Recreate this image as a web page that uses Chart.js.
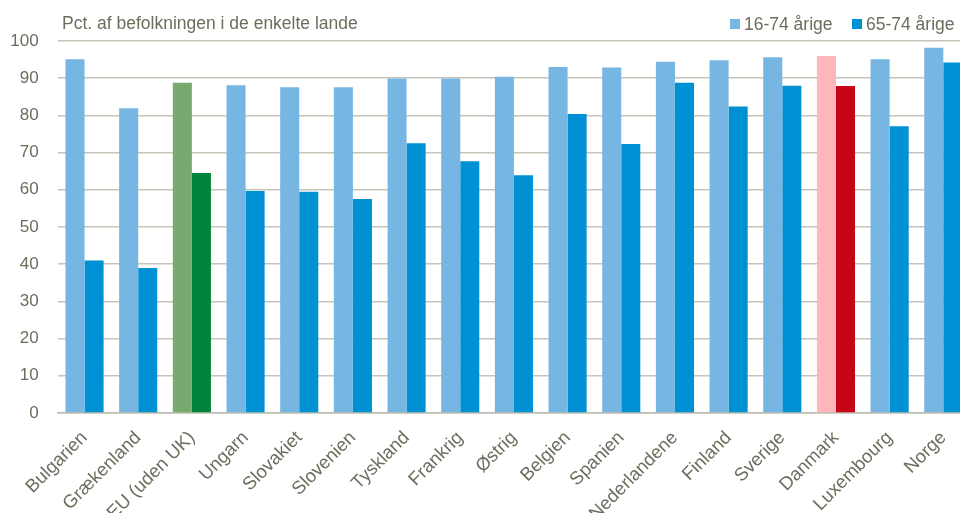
<!DOCTYPE html>
<html lang="da">
<head>
<meta charset="utf-8">
<script src="https://cdn.jsdelivr.net/npm/chart.js@4.4.1/dist/chart.umd.min.js"></script>
<style>
  html, body { margin: 0; padding: 0; background: #fff; overflow: hidden; }
  #wrap { position: absolute; left: 0; top: 0; width: 973px; height: 513px; }
</style>
</head>
<body>
<div id="wrap"><canvas id="myChart"></canvas></div>
<script>
// data
const lande = ['Bulgarien', 'Grækenland', 'EU (uden UK)', 'Ungarn', 'Slovakiet', 'Slovenien', 'Tyskland',
  'Frankrig', 'Østrig', 'Belgien', 'Spanien', 'Nederlandene', 'Finland', 'Sverige', 'Danmark', 'Luxembourg', 'Norge'];
const alle16til74 = [95.1, 81.9, 88.8, 88.1, 87.6, 87.6, 89.9, 89.9, 90.4, 93.0, 92.9, 94.4, 94.8, 95.6, 96.0, 95.1, 98.2];
const aeldre65til74 = [41.0, 39.0, 64.5, 59.7, 59.5, 57.5, 72.5, 67.7, 63.9, 80.4, 72.3, 88.8, 82.4, 88.0, 87.9, 77.1, 94.2];
const yTicks = [0, 10, 20, 30, 40, 50, 60, 70, 80, 90, 100];

// farver
const tekstFarve = '#6d6d5d';
const lysBlaa = '#77b5e3';
const moerkBlaa = '#0090d4';
const fremhaev = {
  'EU (uden UK)': ['#78aa6f', '#00843b'],
  'Danmark': ['#ffb7bb', '#c80516']
};

const farverLys = lande.map(l => fremhaev[l] ? fremhaev[l][0] : lysBlaa);
const farverMoerk = lande.map(l => fremhaev[l] ? fremhaev[l][1] : moerkBlaa);

const skrift = '"Liberation Sans", Arial, sans-serif';

// titel og forklaring tegnes selv oeverst
const overskrift = {
  id: 'overskrift',
  afterDraw(chart) {
    const c = chart.ctx;
    c.save();
    c.fillStyle = tekstFarve;
    c.font = '17.5px ' + skrift;
    c.textBaseline = 'alphabetic';
    c.textAlign = 'left';
    c.fillText('Pct. af befolkningen i de enkelte lande', 62, 29);

    const pos = [730, 852];
    chart.data.datasets.forEach((ds, i) => {
      c.fillStyle = i === 0 ? lysBlaa : moerkBlaa;
      c.fillRect(pos[i], 19, 10, 10);
      c.fillStyle = tekstFarve;
      c.fillText(ds.label, pos[i] + 14, 30);
    });
    c.restore();
  }
};

const ctx = document.getElementById('myChart');

new Chart(ctx, {
  type: 'bar',
  data: {
    labels: lande,
    datasets: [{
      label: '16-74 årige',
      data: alle16til74,
      backgroundColor: farverLys,
      borderWidth: 0
    }, {
      label: '65-74 årige',
      data: aeldre65til74,
      backgroundColor: farverMoerk,
      borderWidth: 0
    }]
  },
  options: {
    responsive: true,
    maintainAspectRatio: false,
    animation: false,
    layout: { padding: { top: 41, left: 0, right: 0, bottom: 0 } },
    datasets: {
      bar: { categoryPercentage: 0.71, barPercentage: 1.0 }
    },
    scales: {
      x: {
        grid: { display: false, drawTicks: false },
        border: { display: true, color: '#bdbcb0', width: 1.5 },
        ticks: {
          autoSkip: false,
          minRotation: 45,
          maxRotation: 45,
          padding: 14,
          color: tekstFarve,
          font: { family: skrift, size: 18.5 }
        },
        afterFit(scale) { scale.height = 100; }
      },
      y: {
        min: 0,
        max: 100,
        afterBuildTicks(scale) { scale.ticks = yTicks.map(v => ({ value: v })); },
        grid: { color: '#c6c5b9', lineWidth: 1.5, drawTicks: false },
        border: { display: false },
        ticks: {
          padding: 19,
          color: tekstFarve,
          font: { family: skrift, size: 17 }
        },
        afterFit(scale) { scale.width = 57.7; }
      }
    },
    plugins: {
      legend: { display: false },
      title: { display: false },
      tooltip: { enabled: false }
    }
  },
  plugins: [overskrift]
});
</script>
</body>
</html>
